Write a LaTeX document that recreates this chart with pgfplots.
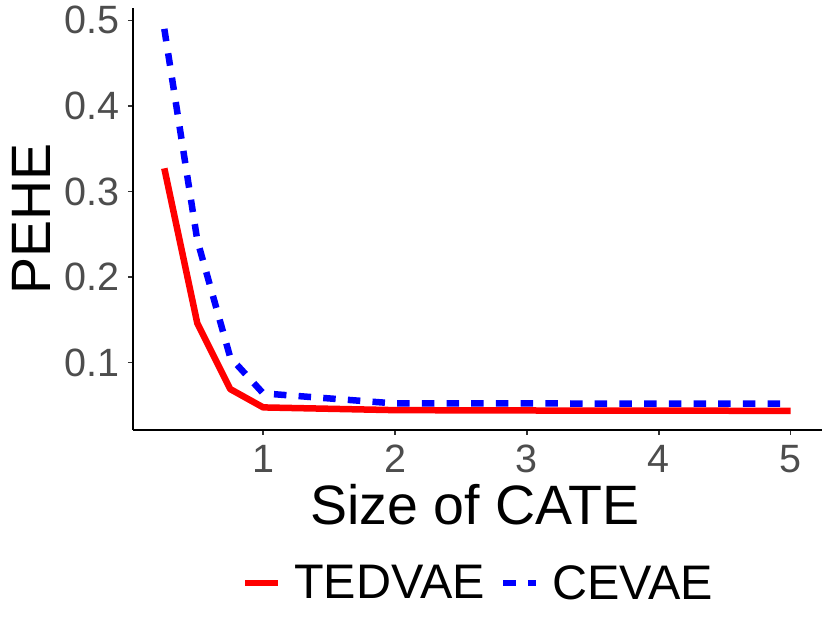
\documentclass[border=0pt]{standalone}
\usepackage{pgfplots}
\pgfplotsset{compat=1.18}
\usepackage{fontspec}
\setmainfont{Liberation Sans}
\definecolor{tickgray}{HTML}{4D4D4D}
\definecolor{axgray}{HTML}{333333}
\begin{document}
\begin{tikzpicture}
\useasboundingbox (0,0) rectangle (830pt,623pt);
\begin{axis}[
  at={(133pt,193pt)}, anchor=south west,
  scale only axis, width=689pt, height=422pt,
  xmin=0.0125, xmax=5.2375, ymin=0.0212, ymax=0.5144,
  axis x line*=bottom, axis y line*=left,
  axis line style={-, black, line width=1.5pt},
  tick align=outside, major tick length=5pt,
  tick style={axgray, line width=1.5pt},
  xtick={1,2,3,4,5}, ytick={0.1,0.2,0.3,0.4,0.5},
  yticklabel style={/pgf/number format/fixed, /pgf/number format/precision=1},
  /pgf/number format/assume math mode=true,
  ticklabel style={font=\fontsize{39.5}{47}\selectfont, text=tickgray},
  xticklabel style={anchor=base, inner sep=0pt, yshift=-38pt},
  yticklabel style={anchor=east, inner sep=0pt, xshift=-8pt},
  xlabel={Size of CATE}, ylabel={PEHE},
  label style={font=\fontsize{55.5}{66}\selectfont},
  x label style={at={(axis description cs:0.4965,-0.225)}, anchor=base},
  y label style={at={(axis description cs:-0.12,0.5)}, anchor=base, rotate=0},
  legend columns=2,
  legend style={at={(axis description cs:0.5,-0.3626)}, anchor=center, draw=none, fill=none,
    font=\fontsize{48.5}{58}\selectfont, inner sep=0pt, nodes={inner sep=0pt},
    /tikz/every odd column/.append style={column sep=13pt},
    /tikz/every even column/.append style={column sep=15pt}},
  legend image code/.code={\draw[#1] (0pt,0pt) -- (33pt,0pt);},
]
\addplot[color=red, line width=6.5pt, line join=round] coordinates {
(0.25,0.327) (0.5,0.146) (0.75,0.069) (1,0.0476) (2,0.0444) (3,0.0440) (4,0.0438) (5,0.0436)};
\addlegendentry{TEDVAE}
\addplot[color=blue, line width=6.5pt, dash pattern=on 12.5pt off 12.2pt] coordinates {
(0.25,0.49) (0.5,0.243) (0.75,0.106) (1,0.064) (2,0.0522) (3,0.0522) (4,0.0521) (5,0.0521)};
\addlegendentry{CEVAE}
\end{axis}
\end{tikzpicture}
\end{document}
